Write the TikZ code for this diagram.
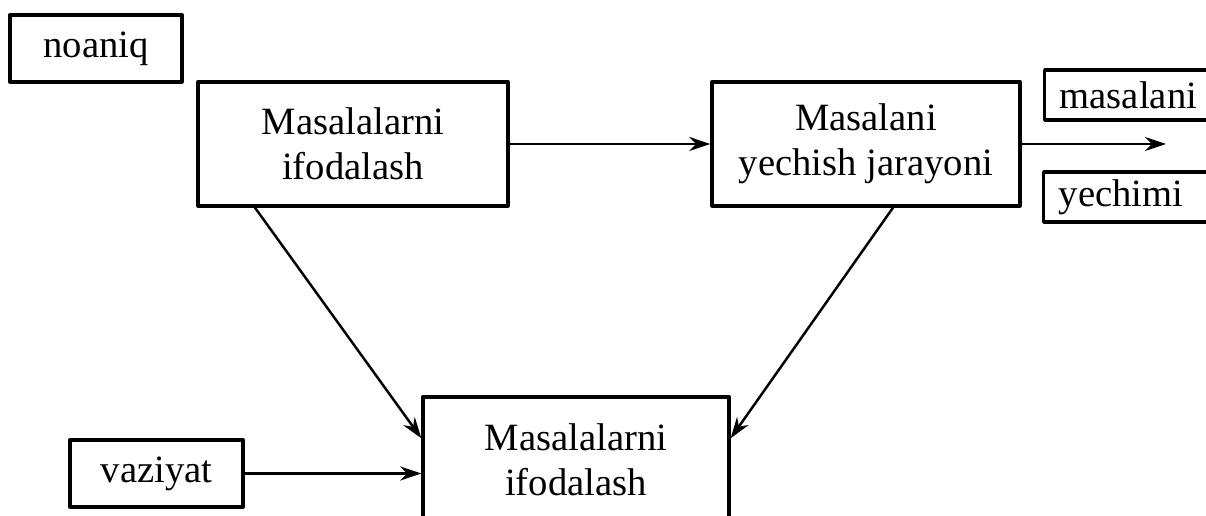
\documentclass[tikz,border=0pt]{standalone}
\usepackage{fontspec}
\setmainfont{Liberation Serif}
\usetikzlibrary{arrows.meta}
\begin{document}
\begin{tikzpicture}[line join=round,line cap=round,>={Stealth[length=12pt,width=8pt]},x=0.02cm,y=-0.02cm,font=\fontsize{22}{25.5}\selectfont]
	\tikzset{box/.style={draw,line width=1.9pt,align=center,inner sep=0pt},
		tag/.style={draw,line width=1.9pt,anchor=west,align=left,text width=3.1cm,inner xsep=0.3cm,inner ysep=0pt,minimum height=1cm},
		link/.style={->,line width=1.4pt}}
	\useasboundingbox (0,0) rectangle (1206,516);
	\node[box,minimum width=3.44cm,minimum height=1.34cm] (noaniq) at (96,48.5) {noaniq};
	\node[box,minimum width=6.2cm,minimum height=2.48cm] (ifoda) at (353,144) {Masalalarni\\ifodalash};
	\node[box,minimum width=6.16cm,minimum height=2.48cm] (yechish) at (866,144) {Masalani\\yechish jarayoni};
	\node[box,minimum width=6.12cm,minimum height=2.52cm] (ifodaB) at (576,460) {Masalalarni\\ifodalash};
	\node[box,minimum width=3.46cm,minimum height=1.34cm] (vaziyat) at (156.5,473.5) {vaziyat};
	\node[tag] (masalani) at (1043,95) {masalani};
	\node[tag] (yechimi) at (1042,197) {yechimi};
	\coordinate (out) at (1166,144);
	\draw[link] (ifoda) -- (yechish);
	\draw[link] (yechish) -- (out);
	\draw[link] (ifoda.213) -- (ifodaB.172.6);
	\draw[link] (yechish.293) -- (ifodaB.8.5);
	\draw[link] (vaziyat) -- (vaziyat -| ifodaB.west);
\end{tikzpicture}
\end{document}
